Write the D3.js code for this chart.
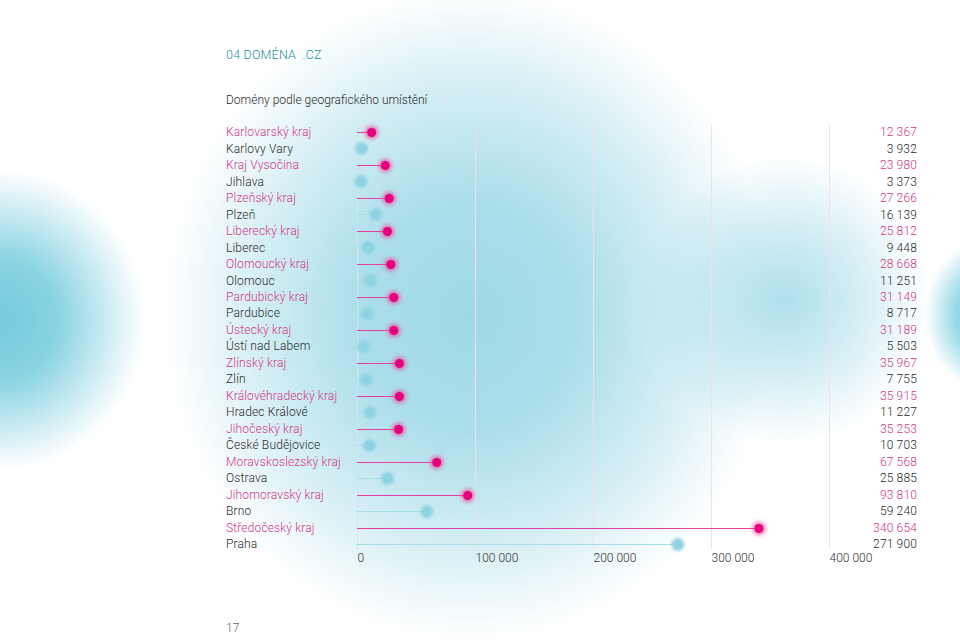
<!DOCTYPE html>
<html><head><meta charset="utf-8">
<script src="https://cdn.jsdelivr.net/npm/d3@7"></script>
<style>
html,body{margin:0;padding:0;background:#fff;}
svg{display:block;font-family:Roboto,"Open Sans",sans-serif;}
</style></head>
<body>
<svg id="c" width="960" height="644"></svg>
<script>
const labels = ["Karlovarský kraj","Karlovy Vary","Kraj Vysočina","Jihlava","Plzeňský kraj","Plzeň","Liberecký kraj","Liberec","Olomoucký kraj","Olomouc","Pardubický kraj","Pardubice","Ústecký kraj","Ústí nad Labem","Zlínský kraj","Zlín","Královéhradecký kraj","Hradec Králové","Jihočeský kraj","České Budějovice","Moravskoslezský kraj","Ostrava","Jihomoravský kraj","Brno","Středočeský kraj","Praha"];
const values = [12367,3932,23980,3373,27266,16139,25812,9448,28668,11251,31149,8717,31189,5503,35967,7755,35915,11227,35253,10703,67568,25885,93810,59240,340654,271900];
const types = ["kraj","city","kraj","city","kraj","city","kraj","city","kraj","city","kraj","city","kraj","city","kraj","city","kraj","city","kraj","city","kraj","city","kraj","city","kraj","city"];
const tickValues = [0,100000,200000,300000,400000];
const titleText = "04 DOMÉNA  .CZ";
const subtitleText = "Domény podle geografického umístění";
const pageNumber = "17";

const svg = d3.select("#c");
const defs = svg.append("defs");

function radial(id, color, stops){
  const g = defs.append("radialGradient").attr("id", id);
  stops.forEach(s => g.append("stop").attr("offset", s[0]).attr("stop-color", color).attr("stop-opacity", s[1]));
}
radial("gBig", "#9fd9e6", [[0,1],[0.35,0.88],[0.7,0.45],[1,0]]);
radial("gLeft", "#74cbdd", [[0,1],[0.4,0.85],[0.75,0.35],[1,0]]);
radial("gRight", "#a6dce8", [[0,0.9],[0.5,0.5],[1,0]]);
radial("gEdge", "#7fd0e0", [[0,1],[0.5,0.8],[1,0]]);

svg.append("rect").attr("width",960).attr("height",644).attr("fill","#fff");
svg.append("ellipse").attr("cx",470).attr("cy",315).attr("rx",305).attr("ry",325).attr("fill","url(#gBig)");
svg.append("ellipse").attr("cx",0).attr("cy",320).attr("rx",145).attr("ry",150).attr("fill","url(#gLeft)");
svg.append("ellipse").attr("cx",785).attr("cy",300).attr("rx",145).attr("ry",145).attr("fill","url(#gRight)");
svg.append("ellipse").attr("cx",985).attr("cy",315).attr("rx",60).attr("ry",75).attr("fill","url(#gEdge)");

const blur1 = defs.append("filter").attr("id","blurP").attr("x","-1").attr("y","-1").attr("width","3").attr("height","3");
blur1.append("feGaussianBlur").attr("stdDeviation",2);
const blur2 = defs.append("filter").attr("id","blurC").attr("x","-1").attr("y","-1").attr("width","3").attr("height","3");
blur2.append("feGaussianBlur").attr("stdDeviation",1.6);

const x = d3.scaleLinear().domain([0,400000]).range([357,829]);
const y = d3.scalePoint().domain(labels).range([132,544]);
const ys = l => Math.round(y(l)) + 0.5;

svg.append("g").selectAll("line").data(tickValues).join("line")
  .attr("x1",d=>Math.round(x(d))+0.5).attr("x2",d=>Math.round(x(d))+0.5).attr("y1",125).attr("y2",548)
  .attr("stroke",(d,i)=> i===0 ? "#d3e6ec" : "#efe0e8").attr("stroke-width",1);

const fmt = d => d3.format(",")(d).replace(/,/g," ");
const axis = d3.axisBottom(x).tickValues(tickValues).tickSize(0).tickPadding(0).tickFormat(fmt);
const ag = svg.append("g").attr("transform","translate(0,554)").call(axis);
ag.select(".domain").remove();
ag.selectAll("text").attr("text-anchor","start").attr("dy","0.7em")
  .attr("font-size",12).attr("font-weight",300).attr("fill","#333").style("font-family","Roboto,sans-serif");

const data = labels.map((l,i)=>({label:l, value:values[i], type:types[i]}));
const pink = "#e6007e", cyan = "#8ed3e2";

svg.append("g").selectAll("line").data(data).join("line")
  .attr("x1",x(0)).attr("x2",d=>x(d.value)).attr("y1",d=>ys(d.label)).attr("y2",d=>ys(d.label))
  .attr("stroke",d=>d.type==="kraj" ? "#e2409c" : "#a9dce7").attr("stroke-width",1);

const dg = svg.append("g");
dg.selectAll("circle.halo").data(data).join("circle").attr("class","halo")
  .attr("cx",d=>x(d.value)).attr("cy",d=>ys(d.label))
  .attr("r",6.5)
  .attr("fill",d=>d.type==="kraj" ? "#f04a9e" : cyan)
  .attr("opacity",d=>d.type==="kraj"?0.8:1)
  .attr("filter",d=>d.type==="kraj" ? "url(#blurP)" : "url(#blurC)");
dg.selectAll("circle.core").data(data.filter(d=>d.type==="kraj")).join("circle").attr("class","core")
  .attr("cx",d=>x(d.value)).attr("cy",d=>ys(d.label)).attr("r",4.5).attr("fill",pink);

svg.append("g").selectAll("text").data(data).join("text")
  .attr("x",226).attr("y",d=>y(d.label)).attr("dy","0.35em")
  .attr("font-size",12).attr("font-weight",300).attr("letter-spacing","0.15")
  .attr("fill",d=>d.type==="kraj" ? "#d2378a" : "#2a2a2a")
  .text(d=>d.label);

svg.append("g").selectAll("text").data(data).join("text")
  .attr("x",917).attr("y",d=>y(d.label)).attr("dy","0.35em").attr("text-anchor","end")
  .attr("font-size",12).attr("font-weight",300).attr("letter-spacing","0.15")
  .attr("fill",d=>d.type==="kraj" ? "#d2378a" : "#2a2a2a")
  .text(d=>fmt(d.value));

svg.append("text").attr("x",226).attr("y",59).attr("font-size",12.5).attr("font-weight",300).attr("fill","#1f8ea3")
  .attr("letter-spacing","0.2").style("white-space","pre").text(titleText);
svg.append("text").attr("x",226).attr("y",104).attr("font-size",12).attr("font-weight",300).attr("fill","#2a2a2a")
  .text(subtitleText);
svg.append("text").attr("x",226).attr("y",632).attr("font-size",12).attr("font-weight",300).attr("fill","#666")
  .text(pageNumber);
</script>
</body></html>
